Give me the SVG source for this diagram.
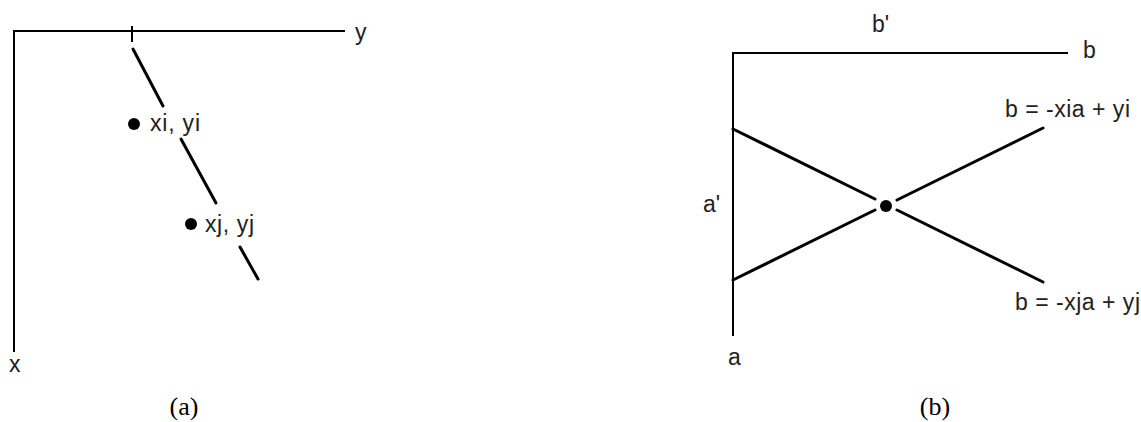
<svg xmlns="http://www.w3.org/2000/svg" width="1141" height="422" viewBox="0 0 1141 422">
<style>
.axis{stroke:#000;stroke-width:2;fill:none}
.ln{stroke:#000;stroke-width:3;fill:none;stroke-linecap:round}
.lbl{font-family:"Liberation Sans",Arial,sans-serif;font-size:23px;fill:#222}
.cap{font-family:"Liberation Serif","Times New Roman",serif;font-size:26px;fill:#000;text-anchor:middle}
.dot{fill:#000}
</style>
<rect width="1141" height="422" fill="#fff"/>
<g id="panel-a">
  <g id="axes-a">
    <polyline class="axis" points="345,31 14,31 14,352"/>
    <line class="axis" x1="132" y1="26" x2="132" y2="42"/>
    <text class="lbl" x="355" y="40">y</text>
    <text class="lbl" x="9" y="372">x</text>
  </g>
  <g id="line-a">
    <line class="ln" x1="133" y1="49" x2="163" y2="106"/>
    <line class="ln" x1="181" y1="139" x2="216" y2="203"/>
    <line class="ln" x1="240" y1="247" x2="258" y2="279"/>
  </g>
  <g id="point-i">
    <circle class="dot" cx="134" cy="124" r="6"/>
    <text class="lbl" x="150" y="131" textLength="50">xi, yi</text>
  </g>
  <g id="point-j">
    <circle class="dot" cx="191" cy="224" r="6"/>
    <text class="lbl" x="205" y="232" textLength="49">xj, yj</text>
  </g>
  <text class="cap" x="184" y="415">(a)</text>
</g>
<g id="panel-b">
  <g id="axes-b">
    <polyline class="axis" points="1068,53 733,53 733,336"/>
    <text class="lbl" x="1083" y="58">b</text>
    <text class="lbl" x="872" y="32">b'</text>
    <text class="lbl" x="703" y="212">a'</text>
    <text class="lbl" x="728" y="365">a</text>
  </g>
  <g id="connectors">
    <line class="ln" x1="733" y1="129" x2="875" y2="199"/>
    <line class="ln" x1="897" y1="210" x2="1043" y2="282"/>
    <line class="ln" x1="733" y1="280" x2="875" y2="210"/>
    <line class="ln" x1="897" y1="200" x2="1043" y2="128"/>
  </g>
  <g id="intersection">
    <circle class="dot" cx="886" cy="206" r="6"/>
  </g>
  <g id="label-i">
    <text class="lbl" x="1005" y="117" textLength="125">b = -xia + yi</text>
  </g>
  <g id="label-j">
    <text class="lbl" x="1015" y="310" textLength="125">b = -xja + yj</text>
  </g>
  <text class="cap" x="935" y="415">(b)</text>
</g>
</svg>
